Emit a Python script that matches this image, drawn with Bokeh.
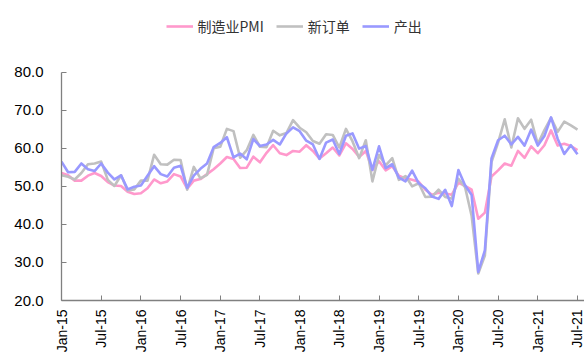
import math

from bokeh.embed import file_html
from bokeh.models import (FixedTicker, Legend, LegendItem, NumeralTickFormatter,
                          Range1d)
from bokeh.plotting import figure
from bokeh.resources import INLINE

# Monthly series, Jan-15 .. Jul-21
pmi = [
    53.5, 52.9, 51.5, 51.5, 52.8, 53.5, 52.7, 51.1, 50.2, 50.1, 48.6, 48.0,
    48.2, 49.5, 51.8, 50.8, 51.3, 53.2, 52.6, 49.4, 51.5, 51.9, 53.2, 54.5,
    56.0, 57.7, 57.2, 54.8, 54.9, 57.8, 56.3, 58.8, 60.8, 58.7, 58.2, 59.3,
    59.1, 60.8, 59.3, 57.3, 58.7, 60.2, 58.1, 61.3, 59.8, 57.7, 59.3, 54.3,
    56.6, 54.2, 55.3, 52.8, 52.1, 51.7, 51.2, 49.1, 47.8, 48.3, 48.1, 47.8,
    50.9, 50.1, 49.1, 41.5, 43.1, 52.6, 54.2, 56.0, 55.4, 59.3, 57.5, 60.5,
    58.7, 60.8, 64.7, 60.7, 61.2, 60.6, 59.5,
]
new_orders = [
    52.9, 52.5, 51.8, 53.5, 55.8, 56.0, 56.5, 51.7, 50.1, 52.9, 48.9, 49.2,
    51.5, 51.5, 58.3, 55.8, 55.7, 57.0, 56.9, 49.1, 55.1, 52.1, 53.0, 60.0,
    60.4, 65.1, 64.5, 57.5, 59.5, 63.5, 60.4, 60.3, 64.6, 63.4, 64.0, 67.4,
    65.4, 64.2, 61.9, 61.2, 63.7, 63.5, 60.2, 65.1, 61.8, 57.4, 62.1, 51.3,
    58.2, 55.5, 57.4, 51.7, 52.7, 50.0, 50.8, 47.2, 47.3, 49.1, 47.2, 46.8,
    52.0, 49.8, 42.2, 27.1, 31.8, 56.4, 61.5, 67.6, 60.2, 67.9, 65.1, 67.5,
    61.1, 64.8, 68.0, 64.3, 67.0, 66.0, 64.9,
]
production = [
    56.5, 53.7, 53.8, 56.0, 54.5, 54.0, 56.0, 53.6, 51.8, 52.9, 49.2, 49.9,
    50.2, 52.8, 55.3, 53.2, 52.6, 54.9, 55.4, 49.6, 52.8, 54.6, 56.0, 60.3,
    61.4, 62.9, 57.6, 58.6, 57.1, 62.4, 60.6, 61.0, 62.2, 61.0, 63.9, 65.5,
    64.5, 62.0, 61.0, 57.2, 61.5, 62.3, 58.5, 63.3, 63.9, 59.9, 60.6, 54.3,
    60.5, 54.8, 55.8, 52.3, 51.3, 54.1, 50.8, 49.5, 47.3, 46.7, 49.1, 44.8,
    54.3, 50.3, 47.7, 27.5, 33.2, 57.3, 62.1, 63.3, 61.0, 63.0, 60.7, 64.9,
    60.7, 63.2, 68.1, 62.5, 58.5, 60.8, 58.4,
]

series_names = ["制造业PMI", "新订单", "产出"]
series_colors = ["#FF99CC", "#C0C0C0", "#9999FF"]

tick_labels = [
    "Jan-15", "Jul-15", "Jan-16", "Jul-16", "Jan-17", "Jul-17", "Jan-18",
    "Jul-18", "Jan-19", "Jul-19", "Jan-20", "Jul-20", "Jan-21", "Jul-21",
]
y_ticks = [20, 30, 40, 50, 60, 70, 80]

x = list(range(len(pmi)))

p = figure(
    width=584, height=356,
    x_range=Range1d(0, 79.06), y_range=Range1d(20, 98.3),
    output_backend="svg", toolbar_location=None,
    min_border_left=61, min_border_right=0,
    min_border_top=2, min_border_bottom=56,
)
p.outline_line_color = None
p.xgrid.visible = False
p.ygrid.visible = False
p.background_fill_color = "white"
p.border_fill_color = "white"

renderers = []
for ys, color in zip([pmi, new_orders, production], series_colors):
    r = p.line(x, ys, line_color=color, line_width=2.6, line_join="round")
    renderers.append(r)

# Legend sits in the empty band above the y axis, bottom-left anchored
legend = Legend(
    items=[LegendItem(label=n, renderers=[r]) for n, r in zip(series_names, renderers)],
    orientation="horizontal",
    location=(104.5, 264),
    label_text_font="Noto Sans CJK SC",
    label_text_font_size="14px",
    label_text_color="#333333",
    glyph_width=27, glyph_height=20, label_height=20,
    label_standoff=5, spacing=12, padding=0, margin=0,
    border_line_color=None, background_fill_alpha=0,
)
p.add_layout(legend)

axis_color = "#808080"
for ax in (p.xaxis[0], p.yaxis[0]):
    ax.axis_line_color = axis_color
    ax.axis_line_width = 1.3
    ax.major_tick_line_color = axis_color
    ax.major_tick_in = 5
    ax.major_tick_out = 0
    ax.minor_tick_in = 0
    ax.minor_tick_out = 0
    ax.major_label_text_font = "Liberation Sans"
    ax.major_label_text_color = "#000000"

xa = p.xaxis[0]
xa.ticker = FixedTicker(ticks=[6 * i for i in range(len(tick_labels))])
xa.major_label_overrides = {6 * i: t for i, t in enumerate(tick_labels)}
xa.major_label_orientation = math.pi / 2
xa.major_label_text_font_size = "14px"
xa.major_label_standoff = 9

ya = p.yaxis[0]
ya.ticker = FixedTicker(ticks=y_ticks)
ya.bounds = (20, 80)
ya.formatter = NumeralTickFormatter(format="0.0")
ya.major_label_text_font_size = "15px"
ya.major_label_standoff = 18

open("out.html", "w").write(file_html(p, INLINE))
